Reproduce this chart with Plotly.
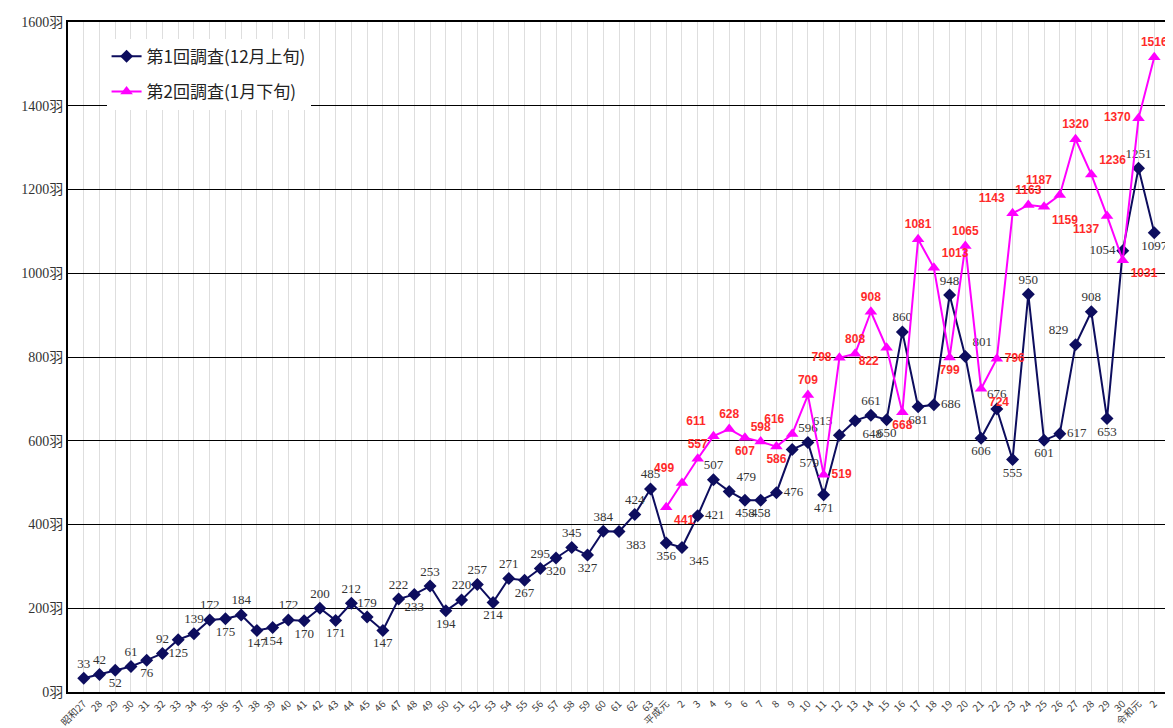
import plotly.graph_objects as go

# Category labels (years)
showa = ["昭和27"] + [str(y) for y in range(28, 64)]
heisei = ["平成元"] + [str(y) for y in range(2, 31)]
reiwa = ["令和元", "2"]
categories = showa + heisei + reiwa

# 第1回調査(12月上旬)
survey1 = [33, 42, 52, 61, 76, 92, 125, 139, 172, 175, 184, 147, 154, 172, 170, 200,
           171, 212, 179, 147, 222, 233, 253, 194, 220, 257, 214, 271, 267, 295, 320,
           345, 327, 384, 383, 424, 485,
           356, 345, 421, 507, 479, 458, 458, 476, 579, 596, 471, 613, 648, 661, 650,
           860, 681, 686, 948, 801, 606, 676, 555, 950, 601, 617, 829, 908, 653, 1054,
           1251, 1097]

# 第2回調査(1月下旬), starting from 平成元
survey2 = [441, 499, 557, 611, 628, 607, 598, 586, 616, 709, 519, 798, 808, 908, 822,
           668, 1081, 1013, 799, 1065, 724, 796, 1143, 1163, 1159, 1187, 1320, 1236,
           1137, 1031, 1370, 1516]

yticks = [0, 200, 400, 600, 800, 1000, 1200, 1400, 1600]

# label placement (style only)
pos1 = ["top center", "top center", "bottom center", "top center", "bottom center", "top center",
        "bottom center", "top center", "top center", "bottom center", "top center", "bottom center",
        "bottom center", "top center", "bottom center", "top center", "bottom center", "top center",
        "top center", "bottom center", "top center", "bottom center", "top center", "bottom center",
        "top center", "top center", "bottom center", "top center", "bottom center", "top center",
        "bottom center", "top center", "bottom center", "top center", "bottom right", "top center",
        "top center",
        "bottom center", "bottom right", "middle right", "top center", "top right", "bottom center",
        "bottom center", "middle right", "bottom right", "top center", "bottom center", "top left",
        "bottom right", "top center", "bottom center", "top center", "bottom center", "middle right",
        "top center", "top right", "bottom center", "top center", "bottom center", "top center",
        "bottom center", "middle right", "top left", "top center", "bottom center", "middle left",
        "top center", "bottom center"]
pos2 = ["bottom right", "top left", "top center", "top left", "top center", "bottom center",
        "top center", "bottom center", "top left", "top center", "middle right", "middle left",
        "top center", "top center", "bottom left", "bottom center", "top center", "top right",
        "bottom center", "top center", "bottom right", "middle right", "top left", "top center",
        "bottom right", "top left", "top center", "top right", "bottom left", "bottom right",
        "middle left", "top center"]

x1 = list(range(len(categories)))
start2 = categories.index("平成元")
x2 = x1[start2:start2 + len(survey2)]

fig = go.Figure()
fig.add_trace(go.Scatter(
    x=x1, y=survey1, mode="lines+markers+text", name="第1回調査(12月上旬)",
    legendgroup="s1",
    line=dict(color="#0d0d5e", width=2),
    marker=dict(symbol="diamond", size=10, color="#0d0d5e"),
    text=[str(v) for v in survey1], textposition=pos1,
    textfont=dict(family="Liberation Serif", size=13, color="#333333"),
    cliponaxis=False,
))
fig.add_trace(go.Scatter(
    x=x2, y=survey2, mode="lines+markers+text", name="第2回調査(1月下旬)",
    legendgroup="s2",
    line=dict(color="#ff00ff", width=2),
    marker=dict(symbol="triangle-up", size=11, color="#ff00ff"),
    text=[str(v) for v in survey2], textposition=pos2,
    textfont=dict(family="Liberation Sans", size=12, color="#ff2a2a", weight="bold"),
    cliponaxis=False,
))

# page body has an 8px margin: figure is sized/offset so the plot lands at the reference pixels
fig.update_layout(
    width=1165, height=720,
    margin=dict(l=60, r=3, t=14, b=36),
    paper_bgcolor="white", plot_bgcolor="white",
    showlegend=True,
    legend=dict(x=0.035, y=0.975, xanchor="left", yanchor="top",
                bgcolor="white", borderwidth=0,
                font=dict(family="Noto Sans CJK JP", size=17, color="#222222"),
                tracegroupgap=10),
    xaxis=dict(
        range=[-1, len(categories)],
        tickmode="array", tickvals=x1, ticktext=categories,
        tickangle=-45, tickfont=dict(family="Noto Sans CJK JP", size=10, color="#444444"),
        showgrid=True, gridcolor="#dedede", gridwidth=1,
        showline=True, linecolor="black", linewidth=2, mirror=True,
        zeroline=False, ticks="", automargin=False,
    ),
    yaxis=dict(
        range=[0, 1600],
        tickmode="array", tickvals=yticks, ticktext=[f"{v}羽" for v in yticks],
        tickfont=dict(family="Liberation Serif, Noto Sans CJK JP", size=14, color="#333333"),
        showgrid=True, gridcolor="black", gridwidth=1,
        showline=True, linecolor="black", linewidth=2, mirror=True,
        zeroline=False, ticks="", automargin=False,
    ),
)

fig.write_html("out.html")
